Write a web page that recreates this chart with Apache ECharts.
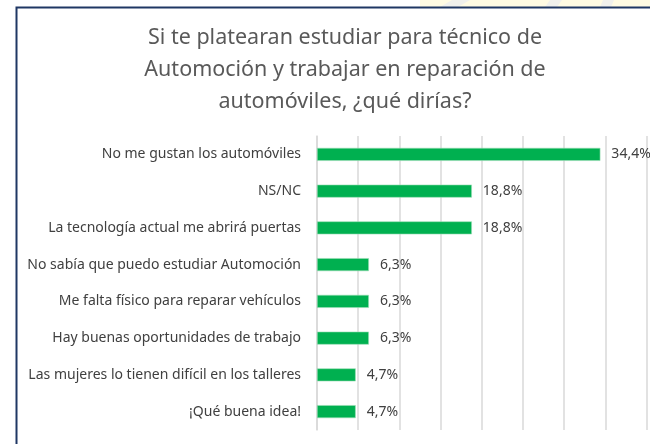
<!DOCTYPE html>
<html>
<head>
<meta charset="utf-8">
<script src="https://cdn.jsdelivr.net/npm/echarts@6/dist/echarts.min.js"></script>
<style>
html,body{margin:0;padding:0;background:#fff;}
#c{width:650px;height:444px;}
</style>
</head>
<body>
<div id="c"></div>
<script>
var titleText = 'Si te platearan estudiar para técnico de\nAutomoción y trabajar en reparación de\nautomóviles, ¿qué dirías?';
var categories = [
  'No me gustan los automóviles',
  'NS/NC',
  'La tecnología actual me abrirá puertas',
  'No sabía que puedo estudiar Automoción',
  'Me falta físico para reparar vehículos',
  'Hay buenas oportunidades de trabajo',
  'Las mujeres lo tienen difícil en los talleres',
  '¡Qué buena idea!'
];
var values = [34.4, 18.8, 18.8, 6.3, 6.3, 6.3, 4.7, 4.7];
var labels = ['34,4%', '18,8%', '18,8%', '6,3%', '6,3%', '6,3%', '4,7%', '4,7%'];

var font = 'Noto Sans';
var chart = echarts.init(document.getElementById('c'), null, {renderer: 'canvas'});
chart.setOption({
  animation: false,
  backgroundColor: '#ffffff',
  graphic: [
    {type: 'rect', shape: {x: 420, y: 0, width: 230, height: 7}, style: {fill: '#FFFBE3'}, z: 0},
    {type: 'polygon', shape: {points: [[440,7],[452,0],[470,0],[458,7]]}, style: {fill: '#F0F0EC'}, z: 1},
    {type: 'polygon', shape: {points: [[545,7],[550,0],[562,0],[557,7]]}, style: {fill: '#F0F0EC'}, z: 1},
    {type: 'polygon', shape: {points: [[600,7],[603,0],[614,0],[611,7]]}, style: {fill: '#F0F0EC'}, z: 1},
    {type: 'rect', shape: {x: 16.5, y: 7.5, width: 660, height: 460}, style: {fill: 'none', stroke: '#1F3764', lineWidth: 2}, z: 2}
  ],
  title: {
    text: titleText,
    left: 340,
    top: 17,
    textAlign: 'center',
    textStyle: {fontFamily: font, fontSize: 21.5, fontWeight: 'normal', color: '#595959', lineHeight: 32}
  },
  grid: {left: 317, right: 3.5, top: 136, bottom: 14},
  xAxis: {
    type: 'value',
    min: 0,
    max: 40,
    interval: 5,
    axisLabel: {show: false},
    axisLine: {show: false},
    axisTick: {show: false},
    splitLine: {show: true, lineStyle: {color: '#D9D9D9', width: 1.5}}
  },
  yAxis: {
    type: 'category',
    inverse: true,
    data: categories,
    axisLine: {show: true, lineStyle: {color: '#D9D9D9', width: 1.5}},
    axisTick: {show: false},
    axisLabel: {margin: 16, fontFamily: font, fontSize: 14, color: '#404040'}
  },
  series: [{
    type: 'bar',
    data: values,
    barWidth: 13,
    itemStyle: {color: '#00B050', borderColor: '#9BDDB5', borderWidth: 0.6},
    label: {
      show: true,
      position: 'right',
      distance: 11,
      fontFamily: font,
      fontSize: 14,
      color: '#404040',
      formatter: function (p) { return labels[p.dataIndex]; }
    }
  }]
});
</script>
</body>
</html>
